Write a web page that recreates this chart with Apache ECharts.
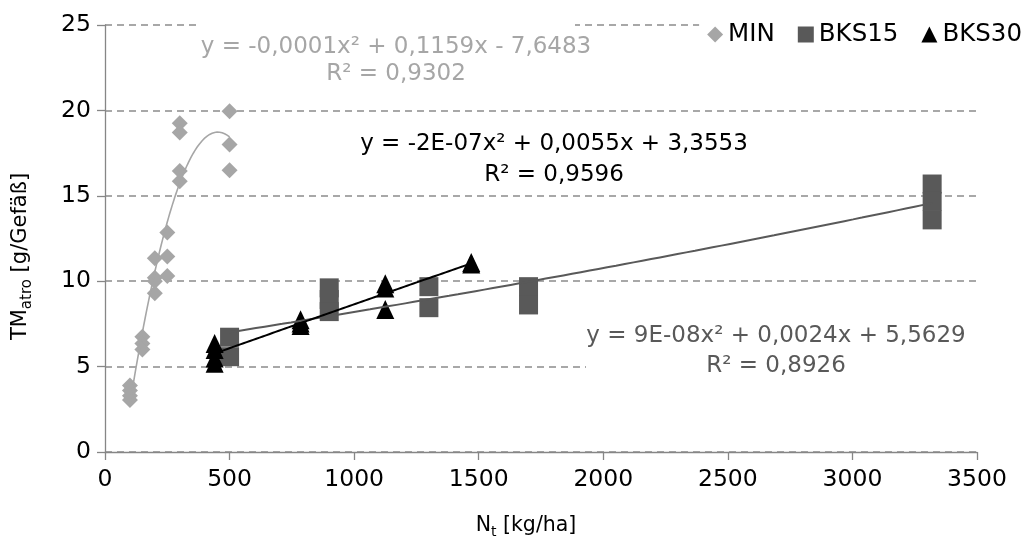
<!DOCTYPE html>
<html>
<head>
<meta charset="utf-8">
<script src="https://cdn.jsdelivr.net/npm/echarts@6/dist/echarts.min.js"></script>
<style>
html, body { margin: 0; padding: 0; background: #fff; }
#chart { width: 1025px; height: 544px; }
</style>
</head>
<body>
<div id="chart"></div>
<script>
// Axis ticks
const xTicks = [0, 500, 1000, 1500, 2000, 2500, 3000, 3500];
const yTicks = [0, 5, 10, 15, 20, 25];

// Series names shown in the legend
const seriesNames = ['MIN', 'BKS15', 'BKS30'];

// MIN: N supply [kg/ha] and dry matter [g/pot]
const minN  = [100, 100, 100, 100, 150, 150, 150, 200, 200, 200, 200, 250, 250, 250, 300, 300, 300, 300, 500, 500, 500];
const minTM = [3.9, 3.6, 3.3, 3.05, 6.75, 6.35, 6.0, 11.35, 10.2, 10.0, 9.3, 12.85, 11.45, 10.3, 19.25, 18.7, 16.45, 15.85, 19.95, 18.0, 16.5];

// BKS15
const bks15N  = [500, 500, 900, 900, 900, 1300, 1300, 1700, 1700, 3320, 3320, 3320];
const bks15TM = [6.72, 5.58, 9.61, 8.93, 8.22, 9.68, 8.45, 9.68, 8.61, 15.69, 14.67, 13.59];

// BKS30
const bks30N  = [440, 440, 440, 440, 785, 785, 785, 1125, 1125, 1125, 1470, 1470];
const bks30TM = [6.35, 6.0, 5.5, 5.2, 7.75, 7.55, 7.4, 9.85, 9.6, 8.35, 11.1, 11.0];

// Trendline equations as printed next to the curves
const minFitText   = ['y = -0,0001x² + 0,1159x - 7,6483', 'R² = 0,9302'];
const bks15FitText = ['y = 9E-08x² + 0,0024x + 5,5629', 'R² = 0,8926'];
const bks30FitText = ['y = -2E-07x² + 0,0055x + 3,3553', 'R² = 0,9596'];

const FONT = 'DejaVu Sans';
const AXIS_GREY = '#868686';
const COL_MIN = '#A6A6A6', COL_15 = '#595959', COL_30 = '#000000';

function pairs(xs, ys) { return xs.map((x, i) => [x, ys[i]]); }

// Least-squares polynomial (order 2) trendline, evaluated across the data range
function quadTrend(xs, ys, steps) {
  const k = 1000; // scale x for numerical stability
  const s = [0, 0, 0, 0, 0], t = [0, 0, 0];
  xs.forEach((xr, i) => {
    const x = xr / k, y = ys[i];
    let p = 1;
    for (let j = 0; j < 5; j++) {
      s[j] += p;
      if (j < 3) t[j] += p * y;
      p *= x;
    }
  });
  const M = [
    [s[4], s[3], s[2], t[2]],
    [s[3], s[2], s[1], t[1]],
    [s[2], s[1], s[0], t[0]]
  ];
  for (let c = 0; c < 3; c++) {
    let piv = c;
    for (let r = c + 1; r < 3; r++) if (Math.abs(M[r][c]) > Math.abs(M[piv][c])) piv = r;
    [M[c], M[piv]] = [M[piv], M[c]];
    for (let r = 0; r < 3; r++) {
      if (r === c) continue;
      const f = M[r][c] / M[c][c];
      for (let q = c; q < 4; q++) M[r][q] -= f * M[c][q];
    }
  }
  const a = M[0][3] / M[0][0], b = M[1][3] / M[1][1], c0 = M[2][3] / M[2][2];
  const lo = Math.min(...xs), hi = Math.max(...xs);
  const out = [];
  for (let i = 0; i <= steps; i++) {
    const xr = lo + (hi - lo) * i / steps, x = xr / k;
    out.push([xr, a * x * x + b * x + c0]);
  }
  return out;
}

function trendSeries(name, data, color, width) {
  return {
    name: name, type: 'line', data: data, showSymbol: false, symbol: 'none', silent: true,
    lineStyle: { color: color, width: width }, itemStyle: { color: color },
    emphasis: { disabled: true }
  };
}

function eqText(x, y, text, color) {
  return {
    type: 'text', x: x, y: y, z: 51, silent: true,
    style: {
      text: text, fill: color, fontSize: 23, fontFamily: FONT,
      align: 'center', verticalAlign: 'middle',
      textAlign: 'center', textVerticalAlign: 'middle'
    }
  };
}

const chart = echarts.init(document.getElementById('chart'), null, { renderer: 'canvas' });

chart.setOption({
  animation: false,
  backgroundColor: '#fff',
  grid: { left: 105, right: 48, top: 25, bottom: 91, containLabel: false },
  legend: {
    data: [
      { name: seriesNames[0], icon: 'diamond' },
      { name: seriesNames[1], icon: 'rect' },
      { name: seriesNames[2], icon: 'triangle' }
    ],
    right: 0, top: 19, z: 60,
    itemWidth: 16, itemHeight: 16, itemGap: 23,
    backgroundColor: '#fff', padding: [3, 3, 3, 8],
    textStyle: { fontSize: 24.5, fontFamily: FONT, color: '#000' }
  },
  xAxis: {
    type: 'value',
    min: xTicks[0], max: xTicks[xTicks.length - 1], interval: xTicks[1] - xTicks[0],
    name: '{n|N}{s|t}{n| [kg/ha]}',
    nameLocation: 'middle', nameGap: 61,
    nameTextStyle: {
      padding: [0, 30, 0, 0],
      rich: {
        n: { fontSize: 20.5, fontFamily: FONT, color: '#000', lineHeight: 26 },
        s: { fontSize: 14, fontFamily: FONT, color: '#000', verticalAlign: 'bottom', lineHeight: 26 }
      }
    },
    axisLine: { show: true, onZero: false, lineStyle: { color: AXIS_GREY, width: 1.3 } },
    axisTick: { show: true, inside: false, length: 8, lineStyle: { color: AXIS_GREY, width: 1.3 } },
    axisLabel: { fontSize: 23.5, fontFamily: FONT, color: '#000', margin: 16, formatter: v => String(v) },
    splitLine: { show: false }
  },
  yAxis: {
    type: 'value',
    min: yTicks[0], max: yTicks[yTicks.length - 1], interval: yTicks[1] - yTicks[0],
    name: '{n|TM}{s|atro}{n| [g/Gefäß]}',
    nameLocation: 'middle', nameGap: 70, nameRotate: 90,
    nameTextStyle: {
      padding: [0, 36, 0, 0],
      rich: {
        n: { fontSize: 21, fontFamily: FONT, color: '#000', lineHeight: 28 },
        s: { fontSize: 15, fontFamily: FONT, color: '#000', verticalAlign: 'bottom', lineHeight: 28 }
      }
    },
    axisLine: { show: true, onZero: false, lineStyle: { color: AXIS_GREY, width: 1.3 } },
    axisTick: { show: true, inside: false, length: 8, lineStyle: { color: AXIS_GREY, width: 1.3 } },
    axisLabel: { fontSize: 23.5, fontFamily: FONT, color: '#000', margin: 14, formatter: v => String(v) },
    splitLine: { show: true, lineStyle: { color: '#8c8c8c', width: 1.5, type: [7, 5] } }
  },
  graphic: [
    // label boxes hide the gridlines behind the equations
    { type: 'rect', z: 50, silent: true, shape: { x: 197, y: 20, width: 378, height: 10 }, style: { fill: '#fff' } },
    { type: 'rect', z: 50, silent: true, shape: { x: 586, y: 318, width: 391, height: 66 }, style: { fill: '#fff' } },
    eqText(396, 47, minFitText[0], COL_MIN),
    eqText(396, 74, minFitText[1], COL_MIN),
    eqText(554, 144, bks30FitText[0], COL_30),
    eqText(554, 175, bks30FitText[1], COL_30),
    eqText(776, 336, bks15FitText[0], COL_15),
    eqText(776, 366, bks15FitText[1], COL_15)
  ],
  series: [
    trendSeries('MIN-Trend', quadTrend(minN, minTM, 80), COL_MIN, 1.6),
    {
      name: seriesNames[0], type: 'scatter', data: pairs(minN, minTM),
      symbol: 'diamond', symbolSize: 16, itemStyle: { color: COL_MIN, opacity: 1 }
    },
    trendSeries('BKS15-Trend', quadTrend(bks15N, bks15TM, 80), COL_15, 2),
    {
      name: seriesNames[1], type: 'scatter', data: pairs(bks15N, bks15TM),
      symbol: 'rect', symbolSize: 19, itemStyle: { color: COL_15, opacity: 1 }
    },
    trendSeries('BKS30-Trend', quadTrend(bks30N, bks30TM, 80), COL_30, 2),
    {
      name: seriesNames[2], type: 'scatter', data: pairs(bks30N, bks30TM),
      symbol: 'triangle', symbolSize: [18, 19], itemStyle: { color: COL_30, opacity: 1 }
    }
  ]
});
</script>
</body>
</html>
